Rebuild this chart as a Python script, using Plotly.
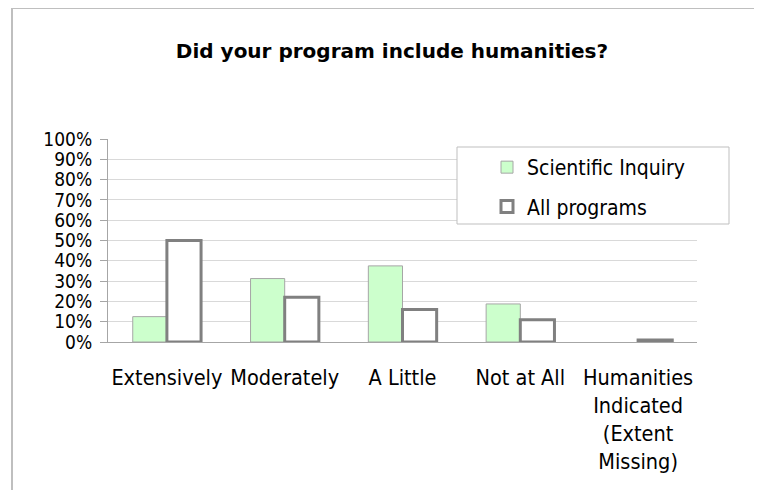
import plotly.graph_objects as go

categories = ["Extensively", "Moderately", "A Little", "Not at All",
              "Humanities<br>Indicated<br>(Extent<br>Missing)"]
scientific_inquiry = [0.125, 0.3125, 0.375, 0.1875, 0.0]
all_programs = [0.50, 0.22, 0.16, 0.11, 0.01]
y_tickvals = [i / 10 for i in range(11)]
y_ticktext = [f"{i * 10}%" for i in range(11)]

FONT = "DejaVu Sans Condensed"

fig = go.Figure()
fig.add_trace(go.Bar(
    x=categories, y=scientific_inquiry, name="Scientific Inquiry",
    marker=dict(color="#ccffcc",
                line=dict(color="#a6a6a6",
                          width=[1 if v > 0 else 0 for v in scientific_inquiry])),
    legendgroup="a",
))
fig.add_trace(go.Bar(
    x=categories, y=all_programs, name="All programs",
    marker=dict(color="#ffffff", line=dict(color="#808080", width=3)),
    legendgroup="b",
))

OFF = 8  # page body margin
W, H = 762 - OFF, 490 - OFF
L, R, T, B = 108 - OFF, 762 - 697, 139 - OFF, 490 - 342
pw, ph = W - L - R, H - T - B


def px_x(x):
    return (x - OFF - L) / pw


def px_y(y):
    return (H - B - (y - OFF)) / ph


shapes = [
    # outer chart border (left and top)
    dict(type="line", xref="paper", yref="paper", x0=px_x(12), x1=px_x(12),
         y0=px_y(8), y1=px_y(500), line=dict(color="#bfbfbf", width=2)),
    dict(type="line", xref="paper", yref="paper", x0=px_x(12), x1=px_x(780),
         y0=px_y(8), y1=px_y(8), line=dict(color="#bfbfbf", width=2)),
    # legend box
    dict(type="rect", xref="paper", yref="paper", x0=px_x(457), x1=px_x(729),
         y0=px_y(147), y1=px_y(224), line=dict(color="#bfbfbf", width=1),
         fillcolor="#ffffff", layer="above"),
]

fig.update_layout(
    width=W, height=H,
    margin=dict(l=L, r=R, t=T, b=B),
    paper_bgcolor="#ffffff", plot_bgcolor="#ffffff",
    font=dict(family=FONT, size=20, color="#000000"),
    title=dict(text="<b>Did your program include humanities?</b>",
               x=px_x(392), xref="paper", xanchor="center",
               y=1 - (51 - OFF) / H, yanchor="middle",
               font=dict(family="DejaVu Sans", size=20)),
    barmode="group", bargap=0.42, bargroupgap=0,
    shapes=shapes,
    showlegend=True,
    legend=dict(x=px_x(487), xanchor="left", y=px_y(147), yanchor="top",
                bgcolor="rgba(0,0,0,0)", borderwidth=0,
                tracegroupgap=9, font=dict(family=FONT, size=21)),
    xaxis=dict(showline=True, linecolor="#a6a6a6", linewidth=1,
               ticks="", showgrid=False, tickfont=dict(size=21.5),
               ticklabelstandoff=16, range=[-0.5, 4.5]),
    yaxis=dict(range=[0, 1], tickvals=y_tickvals, ticktext=y_ticktext,
               showgrid=True, gridcolor="#d9d9d9", gridwidth=1,
               showline=True, linecolor="#a6a6a6", linewidth=1,
               ticks="outside", ticklen=7, tickcolor="#a6a6a6",
               tickfont=dict(size=19), ticklabelstandoff=4, zeroline=False),
)

fig.write_html("out.html")
